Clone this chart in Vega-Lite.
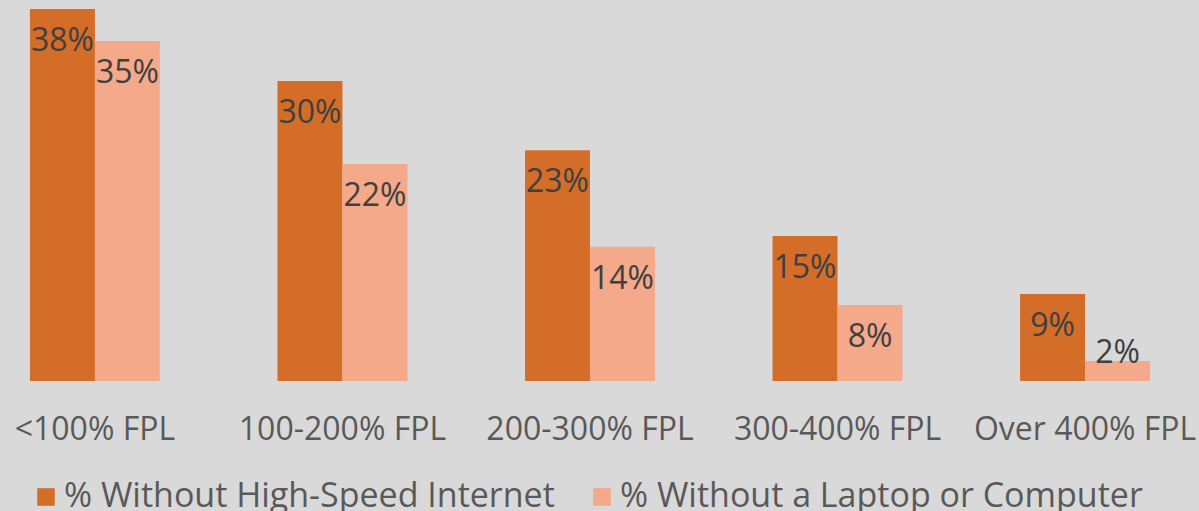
{
  "$schema": "https://vega.github.io/schema/vega-lite/v6.json",
  "width": 1180,
  "height": 372,
  "autosize": {"type": "none"},
  "padding": {"left": 0, "top": 9, "right": 19, "bottom": 130},
  "background": "#d9d9d9",
  "config": {"view": {"stroke": null}, "font": "Open Sans"},
  "data": {
    "values": [
      {"group": "<100% FPL", "series": "% Without High-Speed Internet", "value": 0.380, "label": "38%"},
      {"group": "<100% FPL", "series": "% Without a Laptop or Computer", "value": 0.3473, "label": "35%"},
      {"group": "100-200% FPL", "series": "% Without High-Speed Internet", "value": 0.3065, "label": "30%"},
      {"group": "100-200% FPL", "series": "% Without a Laptop or Computer", "value": 0.2217, "label": "22%"},
      {"group": "200-300% FPL", "series": "% Without High-Speed Internet", "value": 0.2357, "label": "23%"},
      {"group": "200-300% FPL", "series": "% Without a Laptop or Computer", "value": 0.1372, "label": "14%"},
      {"group": "300-400% FPL", "series": "% Without High-Speed Internet", "value": 0.1481, "label": "15%"},
      {"group": "300-400% FPL", "series": "% Without a Laptop or Computer", "value": 0.0776, "label": "8%"},
      {"group": "Over 400% FPL", "series": "% Without High-Speed Internet", "value": 0.0889, "label": "9%"},
      {"group": "Over 400% FPL", "series": "% Without a Laptop or Computer", "value": 0.0204, "label": "2%"}
    ]
  },
  "encoding": {
    "x": {
      "field": "group",
      "type": "nominal",
      "sort": ["<100% FPL", "100-200% FPL", "200-300% FPL", "300-400% FPL", "Over 400% FPL"],
      "scale": {"paddingInner": 0.475, "paddingOuter": 0.121},
      "axis": {
        "title": null,
        "labelAngle": 0,
        "domain": false,
        "ticks": false,
        "labelFontSize": 32,
        "labelColor": "#595959",
        "labelPadding": 33,
        "labelFont": "Open Sans",
        "labelLimit": 400
      }
    },
    "xOffset": {
      "field": "series",
      "type": "nominal",
      "sort": ["% Without High-Speed Internet", "% Without a Laptop or Computer"]
    },
    "y": {
      "field": "value",
      "type": "quantitative",
      "scale": {"domain": [0, 0.38]},
      "axis": null
    }
  },
  "layer": [
    {
      "mark": {"type": "bar"},
      "encoding": {
        "color": {
          "field": "series",
          "type": "nominal",
          "sort": ["% Without High-Speed Internet", "% Without a Laptop or Computer"],
          "scale": {"range": ["#d46d28", "#f3a98a"]},
          "legend": {
            "title": null,
            "orient": "none",
            "legendX": 29,
            "legendY": 471,
            "direction": "horizontal",
            "symbolType": "square",
            "symbolSize": 310,
            "symbolStrokeWidth": 0,
            "labelFontSize": 34,
            "labelColor": "#595959",
            "labelFont": "Open Sans",
            "labelOffset": 1,
            "columnPadding": 30,
            "padding": 0,
            "labelLimit": 700
          }
        }
      }
    },
    {
      "transform": [{"calculate": "max(datum.value, 0.061)", "as": "labelY"}],
      "mark": {"type": "text", "dy": 32, "fontSize": 32, "color": "#404040", "baseline": "middle"},
      "encoding": {
        "y": {"field": "labelY", "type": "quantitative"},
        "text": {"field": "label", "type": "nominal"}
      }
    }
  ]
}
